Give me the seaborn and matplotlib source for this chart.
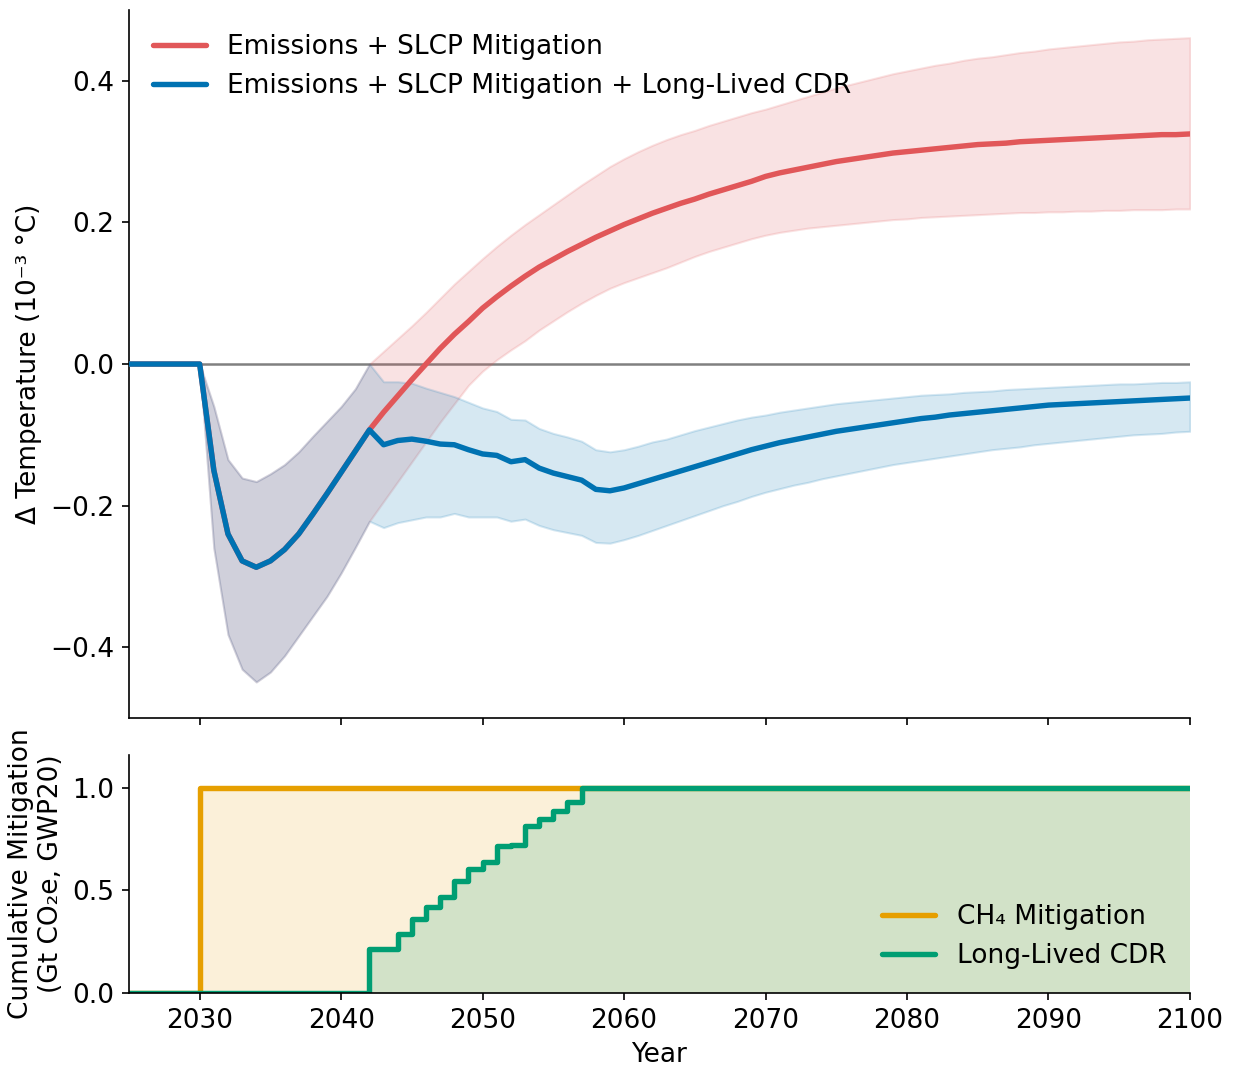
import numpy as np
import matplotlib
matplotlib.use("Agg")
import matplotlib.pyplot as plt
import seaborn as sns

# years shown on the x axis
years = np.arange(2025, 2101)

# temperature response, Emissions + SLCP Mitigation (red)
red_mean = [0, 0, 0, 0, 0, 0,
            -0.150, -0.240, -0.278, -0.287, -0.278, -0.262, -0.240, -0.212, -0.183, -0.153, -0.123, -0.093,
            -0.068, -0.045, -0.022, 0.000, 0.022, 0.042, 0.060, 0.079, 0.095, 0.110,
            0.124, 0.137, 0.148, 0.159, 0.169, 0.179, 0.188, 0.197, 0.205, 0.213,
            0.220, 0.227, 0.233, 0.240, 0.246, 0.252, 0.258, 0.265, 0.270, 0.274,
            0.278, 0.282, 0.286, 0.289, 0.292, 0.295, 0.298, 0.300, 0.302, 0.304,
            0.306, 0.308, 0.310, 0.311, 0.312, 0.314, 0.315, 0.316, 0.317, 0.318,
            0.319, 0.320, 0.321, 0.322, 0.323, 0.324, 0.324, 0.325]
red_low = [0, 0, 0, 0, 0, 0,
           -0.260, -0.382, -0.431, -0.449, -0.435, -0.412, -0.384, -0.356, -0.328, -0.295, -0.259, -0.222,
           -0.194, -0.166, -0.138, -0.110, -0.082, -0.056, -0.030, -0.010, 0.006, 0.020,
           0.033, 0.048, 0.061, 0.074, 0.086, 0.097, 0.107, 0.115, 0.122, 0.129,
           0.136, 0.144, 0.152, 0.159, 0.165, 0.171, 0.177, 0.182, 0.186, 0.189,
           0.192, 0.194, 0.196, 0.198, 0.200, 0.202, 0.204, 0.205, 0.207, 0.208,
           0.209, 0.210, 0.211, 0.212, 0.213, 0.214, 0.214, 0.215, 0.215, 0.216,
           0.216, 0.217, 0.217, 0.218, 0.218, 0.218, 0.219, 0.219]
red_high = [0, 0, 0, 0, 0, 0,
            -0.060, -0.135, -0.161, -0.166, -0.155, -0.142, -0.124, -0.102, -0.081, -0.060, -0.035, 0.000,
            0.018, 0.036, 0.054, 0.073, 0.093, 0.113, 0.131, 0.149, 0.166, 0.182,
            0.197, 0.211, 0.225, 0.239, 0.253, 0.266, 0.279, 0.290, 0.300, 0.309,
            0.317, 0.324, 0.330, 0.337, 0.343, 0.349, 0.355, 0.360, 0.366, 0.372,
            0.378, 0.384, 0.390, 0.395, 0.400, 0.405, 0.410, 0.414, 0.418, 0.422,
            0.425, 0.429, 0.432, 0.434, 0.437, 0.440, 0.442, 0.445, 0.447, 0.449,
            0.451, 0.453, 0.455, 0.456, 0.458, 0.459, 0.460, 0.461]

# temperature response, + Long-Lived CDR (blue)
blue_mean = [0, 0, 0, 0, 0, 0,
             -0.150, -0.240, -0.278, -0.287, -0.278, -0.262, -0.240, -0.212, -0.183, -0.153, -0.123, -0.093,
             -0.114, -0.108, -0.106, -0.109, -0.113, -0.114, -0.121, -0.127, -0.129, -0.138,
             -0.135, -0.147, -0.154, -0.159, -0.164, -0.177, -0.179, -0.175, -0.169, -0.163,
             -0.157, -0.151, -0.145, -0.139, -0.133, -0.127, -0.121, -0.116, -0.111, -0.107,
             -0.103, -0.099, -0.095, -0.092, -0.089, -0.086, -0.083, -0.080, -0.077, -0.075,
             -0.072, -0.070, -0.068, -0.066, -0.064, -0.062, -0.060, -0.058, -0.057, -0.056,
             -0.055, -0.054, -0.053, -0.052, -0.051, -0.050, -0.049, -0.048]
blue_low = [0, 0, 0, 0, 0, 0,
            -0.260, -0.382, -0.431, -0.449, -0.435, -0.412, -0.384, -0.356, -0.328, -0.295, -0.259, -0.222,
            -0.231, -0.224, -0.220, -0.216, -0.216, -0.211, -0.216, -0.216, -0.216, -0.222,
            -0.219, -0.228, -0.234, -0.238, -0.242, -0.252, -0.253, -0.248, -0.242, -0.235,
            -0.228, -0.221, -0.214, -0.207, -0.200, -0.194, -0.187, -0.181, -0.176, -0.171,
            -0.167, -0.162, -0.158, -0.154, -0.150, -0.146, -0.142, -0.139, -0.136, -0.133,
            -0.130, -0.127, -0.124, -0.121, -0.119, -0.117, -0.114, -0.112, -0.110, -0.108,
            -0.106, -0.104, -0.102, -0.100, -0.099, -0.098, -0.096, -0.095]
blue_high = [0, 0, 0, 0, 0, 0,
             -0.060, -0.135, -0.161, -0.166, -0.155, -0.142, -0.124, -0.102, -0.081, -0.060, -0.035, 0.000,
             -0.025, -0.025, -0.027, -0.034, -0.040, -0.046, -0.054, -0.062, -0.067, -0.078,
             -0.079, -0.091, -0.098, -0.103, -0.109, -0.121, -0.124, -0.121, -0.116, -0.110,
             -0.106, -0.100, -0.094, -0.089, -0.084, -0.079, -0.075, -0.072, -0.068, -0.065,
             -0.062, -0.059, -0.056, -0.054, -0.052, -0.050, -0.048, -0.046, -0.044, -0.043,
             -0.042, -0.040, -0.039, -0.038, -0.036, -0.035, -0.034, -0.033, -0.032, -0.031,
             -0.030, -0.029, -0.028, -0.028, -0.027, -0.026, -0.026, -0.025]

# cumulative mitigation (Gt CO2e, GWP20)
ch4_cum = [0, 0, 0, 0, 0,
           1, 1, 1, 1, 1, 1, 1, 1, 1, 1, 1, 1, 1, 1, 1, 1, 1, 1, 1, 1,
           1, 1, 1, 1, 1, 1, 1, 1, 1, 1, 1, 1, 1, 1, 1, 1, 1, 1, 1, 1,
           1, 1, 1, 1, 1, 1, 1, 1, 1, 1, 1, 1, 1, 1, 1, 1, 1, 1, 1, 1,
           1, 1, 1, 1, 1, 1, 1, 1, 1, 1, 1]
cdr_cum = [0, 0, 0, 0, 0,
           0, 0, 0, 0, 0, 0, 0, 0, 0, 0, 0, 0,
           0.213, 0.213, 0.286, 0.359, 0.421, 0.470, 0.548, 0.605, 0.637, 0.717,
           0.720, 0.815, 0.847, 0.885, 0.931,
           1, 1, 1, 1, 1, 1, 1, 1, 1, 1, 1, 1, 1, 1, 1, 1, 1, 1, 1, 1,
           1, 1, 1, 1, 1, 1, 1, 1, 1, 1, 1, 1, 1, 1, 1, 1, 1, 1, 1, 1,
           1, 1, 1, 1]

red = "#e15759"
blue = "#0072b2"
orange = "#e69f00"
green = "#009e73"

sns.set_style("ticks")
plt.rcParams["font.family"] = ["DejaVu Sans"]
plt.rcParams["font.size"] = 12.7
plt.rcParams["text.color"] = "black"
plt.rcParams["axes.labelcolor"] = "black"
plt.rcParams["xtick.color"] = "black"
plt.rcParams["ytick.color"] = "black"
plt.rcParams["axes.edgecolor"] = "black"

fig, (ax1, ax2) = plt.subplots(2, 1, sharex=True, figsize=(1234 / 150, 1067 / 150), dpi=150,
                               gridspec_kw={"height_ratios": [2.975, 1], "hspace": 0.078})
fig.subplots_adjust(left=0.1045, right=0.9643, top=0.9906, bottom=0.0694)

########## top panel: temperature
ax1.axhline(0, color="grey", lw=1.2, zorder=1)
ax1.fill_between(years, red_low, red_high, color=red, alpha=0.17, lw=1, zorder=2)
ax1.fill_between(years, blue_low, blue_high, color=blue, alpha=0.16, lw=1, zorder=2)
sns.lineplot(x=years, y=red_mean, ax=ax1, color=red, lw=2.6,
             label="Emissions + SLCP Mitigation", zorder=3)
sns.lineplot(x=years, y=blue_mean, ax=ax1, color=blue, lw=2.6,
             label="Emissions + SLCP Mitigation + Long-Lived CDR", zorder=4)
ax1.set_ylim(-0.5, 0.5)
ax1.set_yticks([-0.4, -0.2, 0.0, 0.2, 0.4])
ax1.set_ylabel("Δ Temperature (10⁻³ °C)")
ax1.legend(loc="upper left", frameon=False, fontsize=12.7)

########## bottom panel: cumulative mitigation
ax2.fill_between(years, 0, ch4_cum, step="post", color=orange, alpha=0.15, lw=0)
ax2.fill_between(years, 0, cdr_cum, step="post", color=green, alpha=0.16, lw=0)
sns.lineplot(x=years, y=ch4_cum, ax=ax2, color=orange, lw=2.6,
             drawstyle="steps-post", label="CH₄ Mitigation")
sns.lineplot(x=years, y=cdr_cum, ax=ax2, color=green, lw=2.6,
             drawstyle="steps-post", label="Long-Lived CDR")
ax2.set_ylim(0, 1.16)
ax2.set_yticks([0.0, 0.5, 1.0])
ax2.set_xlim(2025, 2100)
ax2.set_xticks(np.arange(2030, 2101, 10))
ax2.set_xlabel("Year")
ax2.set_ylabel("Cumulative Mitigation\n(Gt CO₂e, GWP20)")
ax2.legend(loc="lower right", frameon=False, fontsize=12.7)

sns.despine(fig=fig)
fig.savefig("out.png", dpi=150)
